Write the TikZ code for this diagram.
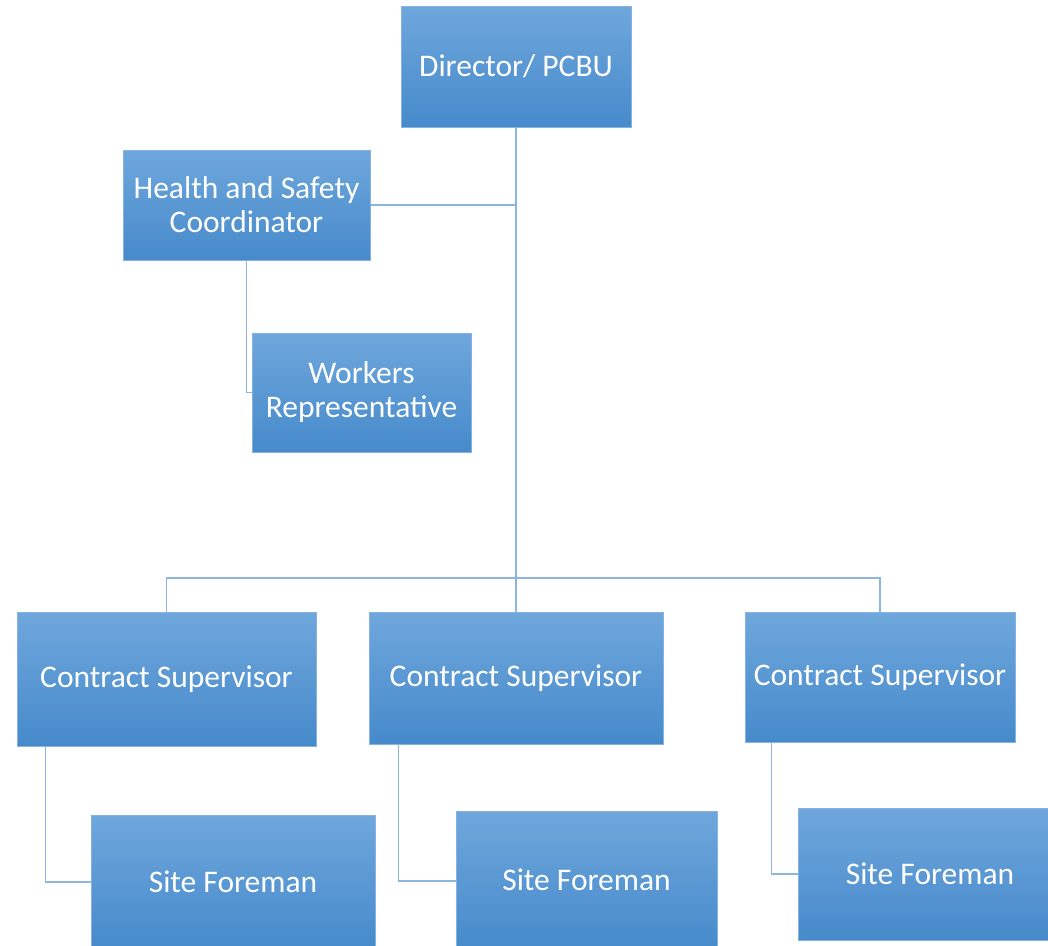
\documentclass[tikz,border=0pt]{standalone}
\usepackage{fontspec}
\setmainfont{Carlito}
\definecolor{boxtop}{HTML}{6FA7DC}
\definecolor{boxbot}{HTML}{468ACB}
\definecolor{boxedge}{HTML}{86B2E0}
\definecolor{linkc}{HTML}{8DB5DF}
\begin{document}
\begin{tikzpicture}[x=1pt,y=1pt,
  box/.style={rectangle, draw=boxedge, line width=1pt, top color=boxtop, bottom color=boxbot,
    text=white, align=center, inner sep=0pt,
    font=\fontsize{31.5}{34}\selectfont},
  link/.style={draw=linkc, line width=1.5pt}]
\useasboundingbox (0,0) rectangle (1048,-945);
\clip (0,0) rectangle (1048,-945);
\node[box, minimum width=230, minimum height=121] (dir) at (516,-66.5) {Director/ PCBU};
\node[box, minimum width=247, minimum height=110] (hs) at (246.5,-205) {Health and Safety\\Coordinator};
\node[box, minimum width=219, minimum height=119] (wr) at (361.5,-392.5) {Workers\\Representative};
\node[box, minimum width=299, minimum height=134] (cs1) at (166.5,-679) {Contract Supervisor};
\node[box, minimum width=294, minimum height=132] (cs2) at (516,-678) {Contract Supervisor};
\node[box, minimum width=270, minimum height=130] (cs3) at (880,-677) {Contract Supervisor};
\node[box, minimum width=284, minimum height=134] (sf1) at (233,-882) {Site Foreman};
\node[box, minimum width=261, minimum height=138] (sf2) at (586.5,-880) {Site Foreman};
\node[box, minimum width=264, minimum height=132] (sf3) at (930,-874) {Site Foreman};
\coordinate (bus) at (516,-578);
\draw[link] (dir.south) -- (bus);
\draw[link] (hs.east) -- (hs.east -| dir.south);
\draw[link] (hs.south) |- (wr.west);
\draw[link] (cs1.north) |- (bus) -| (cs3.north);
\draw[link] (cs2.north) -- (bus);
\draw[link] ([xshift=29pt]cs1.south west) |- (sf1.west);
\draw[link] ([xshift=30pt]cs2.south west) |- ([yshift=-1pt]sf2.west);
\draw[link] ([xshift=27pt]cs3.south west) |- (sf3.west);
\end{tikzpicture}
\end{document}
